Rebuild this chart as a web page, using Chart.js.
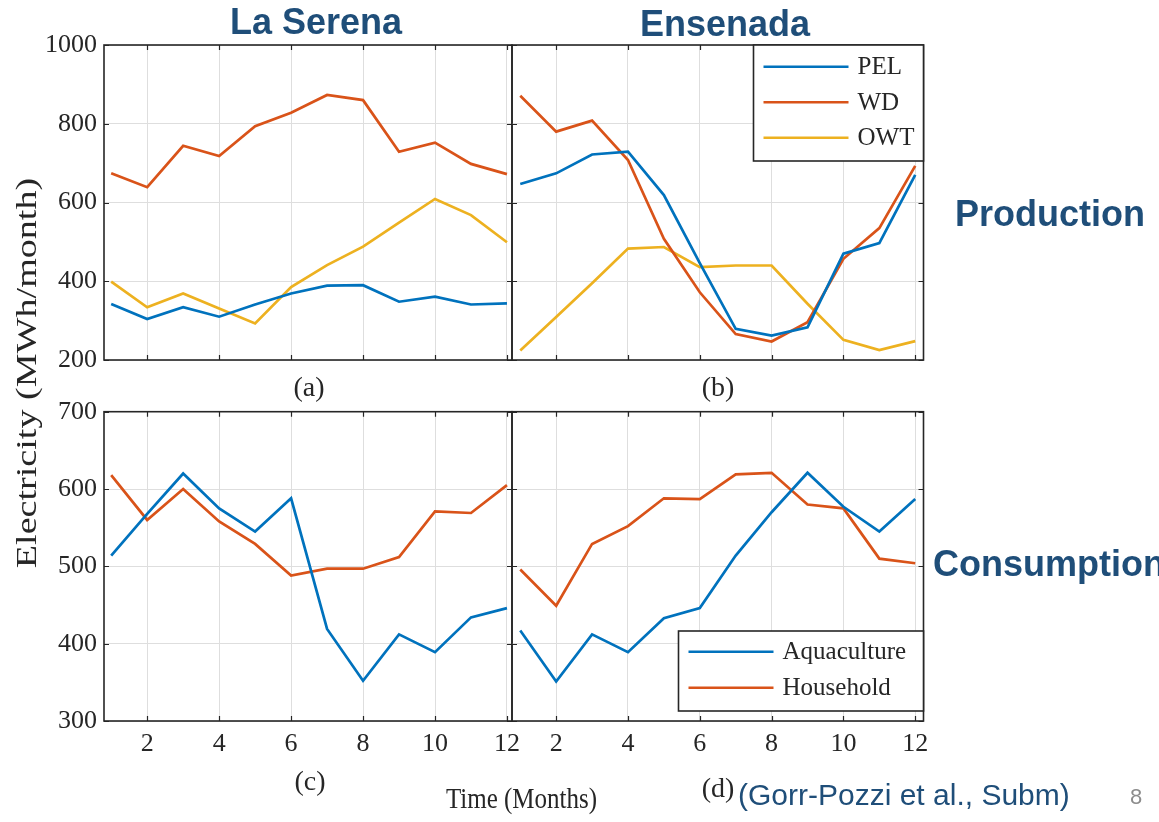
<!DOCTYPE html>
<html>
<head>
<meta charset="utf-8">
<script src="https://cdn.jsdelivr.net/npm/chart.js@4.4.1/dist/chart.umd.min.js"></script>
<style>
  html, body { margin: 0; padding: 0; background: #fff; }
  #page { position: relative; width: 1159px; height: 822px; overflow: hidden; background: #fff; }
  #page canvas { position: absolute; left: 0; top: 0; }
  .t { position: absolute; white-space: nowrap; line-height: 1; }
  .head { font-family: "Liberation Sans", Arial, sans-serif; font-weight: bold; font-size: 36px; color: #1F4E79; }
  .serif { font-family: "Liberation Serif", "Times New Roman", serif; color: #262626; }
</style>
</head>
<body>
<div id="page">
  <canvas id="panelA" width="1159" height="822"></canvas>
  <canvas id="panelB" width="1159" height="822"></canvas>
  <canvas id="panelC" width="1159" height="822"></canvas>
  <canvas id="panelD" width="1159" height="822"></canvas>

  <div class="t head" style="left:316px;top:3.8px;transform:translateX(-50%);">La Serena</div>
  <div class="t head" style="left:725px;top:5.5px;transform:translateX(-50%);">Ensenada</div>
  <div class="t head" style="left:955px;top:195.5px;">Production</div>
  <div class="t head" style="left:933px;top:545.5px;">Consumption</div>

  <div class="t serif" style="left:309px;top:372.5px;font-size:28px;transform:translateX(-50%);">(a)</div>
  <div class="t serif" style="left:718px;top:372.5px;font-size:28px;transform:translateX(-50%);">(b)</div>
  <div class="t serif" style="left:310px;top:767px;font-size:28px;transform:translateX(-50%);">(c)</div>
  <div class="t serif" style="left:718px;top:774px;font-size:28px;transform:translateX(-50%);">(d)</div>

  <div class="t serif" style="left:521.5px;top:787.4px;font-size:25px;transform-origin:50% 21px;transform:translateX(-50%) scaleY(1.21);">Time (Months)</div>
  <div class="t serif" style="left:-174.2px;top:357.5px;width:400px;height:30px;text-align:center;font-size:30px;transform:rotate(-90deg) scale(1.27,1);">Electricity (MWh/month)</div>

  <div class="t" style="left:738px;top:779.6px;font-family:'Liberation Sans',Arial,sans-serif;font-size:30px;color:#1F4E79;">(Gorr-Pozzi et al., Subm)</div>
  <div class="t" style="left:1130px;top:786.4px;font-family:'Liberation Sans',Arial,sans-serif;font-size:22px;color:#8c8c8c;">8</div>
</div>

<script>
// Months on the x axis and the tick values of each axis
const months = [1, 2, 3, 4, 5, 6, 7, 8, 9, 10, 11, 12];
const monthTicks = [2, 4, 6, 8, 10, 12];
const productionTicks = [200, 400, 600, 800, 1000];
const consumptionTicks = [300, 400, 500, 600, 700];

// Electricity production, La Serena (MWh/month)
const laSerenaPEL = [342, 304, 334, 310, 341, 369, 389, 390, 348, 361, 341, 344];
const laSerenaWD  = [674, 639, 744, 718, 794, 828, 873, 860, 729, 752, 698, 672];
const laSerenaOWT = [399, 334, 369, 331, 293, 385, 441, 488, 549, 609, 568, 499];

// Electricity production, Ensenada (MWh/month)
const ensenadaPEL = [647, 674, 722, 729, 619, 446, 279, 262, 283, 470, 497, 670];
const ensenadaWD  = [871, 780, 808, 708, 508, 372, 266, 247, 296, 457, 535, 693];
const ensenadaOWT = [224, 309, 395, 483, 487, 436, 440, 440, 343, 251, 225, 248];

// Electricity consumption, La Serena (MWh/month)
const laSerenaAquaculture = [514, 568, 620, 575, 545, 588, 419, 352, 412, 389, 434, 446];
const laSerenaHousehold   = [618, 560, 600, 558, 529, 488, 497, 497, 512, 571, 569, 605];

// Electricity consumption, Ensenada (MWh/month)
const ensenadaAquaculture = [417, 351, 412, 389, 433, 446, 514, 570, 621, 577, 545, 587];
const ensenadaHousehold   = [496, 449, 529, 552, 588, 587, 619, 621, 580, 575, 510, 504];

const BLUE = '#0072BD', ORANGE = '#D95319', YELLOW = '#EDB120';
const INK = '#262626', GRID = '#dedede';
const SERIF = '"Liberation Serif", "Times New Roman", serif';
const PAGE_W = 1159, PAGE_H = 822;

// Closed axes box with inward tick marks on all four sides
const boxPlugin = {
  id: 'axesBox',
  afterDatasetsDraw(chart) {
    const { ctx, chartArea: a, scales: { x, y } } = chart;
    ctx.save();
    ctx.strokeStyle = INK;
    ctx.lineWidth = 1.2;
    ctx.beginPath();
    x.ticks.forEach(t => {
      const px = Math.round(x.getPixelForValue(t.value)) + 0.5;
      ctx.moveTo(px, a.bottom); ctx.lineTo(px, a.bottom - 5);
      ctx.moveTo(px, a.top); ctx.lineTo(px, a.top + 5);
    });
    y.ticks.forEach(t => {
      const py = Math.round(y.getPixelForValue(t.value)) + 0.5;
      ctx.moveTo(a.left, py); ctx.lineTo(a.left + 5, py);
      ctx.moveTo(a.right, py); ctx.lineTo(a.right - 5, py);
    });
    ctx.stroke();
    ctx.lineWidth = 1.6;
    ctx.strokeRect(a.left, a.top, a.right - a.left, a.bottom - a.top);
    ctx.restore();
  }
};

// Boxed legend drawn inside the plot area
const boxLegendPlugin = {
  id: 'boxLegend',
  afterDatasetsDraw(chart, args, o) {
    const { ctx, chartArea: a } = chart;
    const left = a.right - o.w;
    const top = o.anchor === 'top' ? a.top + o.inset : a.bottom - o.inset - o.h;
    ctx.save();
    ctx.fillStyle = '#fff';
    ctx.fillRect(left, top, o.w, o.h);
    ctx.strokeStyle = INK;
    ctx.lineWidth = 1.6;
    ctx.strokeRect(left, top, o.w, o.h);
    ctx.font = '25px ' + SERIF;
    ctx.textBaseline = 'alphabetic';
    ctx.textAlign = 'left';
    chart.data.datasets.forEach((ds, i) => {
      const ry = top + o.first + i * o.gap;
      ctx.strokeStyle = ds.borderColor;
      ctx.lineWidth = 2.6;
      ctx.beginPath();
      ctx.moveTo(left + o.sampleX, ry);
      ctx.lineTo(left + o.sampleX + o.sampleLen, ry);
      ctx.stroke();
      ctx.fillStyle = INK;
      ctx.fillText(ds.label, left + o.textX, ry + 7.5);
    });
    ctx.restore();
  }
};

function panel(id, cfg) {
  const area = cfg.area;
  new Chart(document.getElementById(id), {
    type: 'line',
    data: {
      datasets: cfg.series.map(s => ({
        label: s.label,
        data: months.map((m, i) => ({ x: m, y: s.values[i] })),
        borderColor: s.color,
        backgroundColor: s.color,
        borderWidth: 2.7,
        pointRadius: 0,
        tension: 0,
        fill: false
      }))
    },
    options: {
      responsive: false,
      animation: false,
      devicePixelRatio: 1,
      layout: {
        padding: {
          left: area.left - cfg.yWidth,
          top: area.top,
          right: PAGE_W - area.right,
          bottom: PAGE_H - area.bottom - cfg.xHeight
        }
      },
      plugins: {
        legend: { display: false },
        tooltip: { enabled: false },
        boxLegend: cfg.legend || false
      },
      scales: {
        x: {
          type: 'linear',
          min: cfg.xMin,
          max: cfg.xMax,
          afterBuildTicks: s => { s.ticks = monthTicks.map(v => ({ value: v })); },
          afterFit: s => { s.height = cfg.xHeight; },
          grid: { color: GRID, lineWidth: 1, drawTicks: false },
          border: { display: false },
          ticks: {
            display: cfg.xLabels,
            font: { family: SERIF, size: 26 },
            color: INK,
            padding: 8,
            maxRotation: 0,
            autoSkip: false,
            callback: v => String(v)
          }
        },
        y: {
          type: 'linear',
          min: cfg.yTicks[0],
          max: cfg.yTicks[cfg.yTicks.length - 1],
          afterBuildTicks: s => { s.ticks = cfg.yTicks.map(v => ({ value: v })); },
          afterFit: s => { s.width = cfg.yWidth; },
          grid: { color: GRID, lineWidth: 1, drawTicks: false },
          border: { display: false },
          ticks: {
            display: cfg.yLabels,
            font: { family: SERIF, size: 26 },
            color: INK,
            padding: 7,
            callback: v => String(v)
          }
        }
      }
    },
    plugins: [boxPlugin, boxLegendPlugin]
  });
}

const productionSeries = (pel, wd, owt) => [
  { label: 'PEL', values: pel, color: BLUE },
  { label: 'WD', values: wd, color: ORANGE },
  { label: 'OWT', values: owt, color: YELLOW }
];
const consumptionSeries = (aq, hh) => [
  { label: 'Aquaculture', values: aq, color: BLUE },
  { label: 'Household', values: hh, color: ORANGE }
];

// (a) La Serena production
panel('panelA', {
  area: { left: 104, right: 512, top: 45, bottom: 360 },
  yWidth: 90, xHeight: 0, xLabels: false, yLabels: true,
  xMin: 0.8, xMax: 12.14, yTicks: productionTicks,
  series: productionSeries(laSerenaPEL, laSerenaWD, laSerenaOWT)
});

// (b) Ensenada production
panel('panelB', {
  area: { left: 512, right: 923.5, top: 45, bottom: 360 },
  yWidth: 0, xHeight: 0, xLabels: false, yLabels: false,
  xMin: 0.77, xMax: 12.23, yTicks: productionTicks,
  series: productionSeries(ensenadaPEL, ensenadaWD, ensenadaOWT),
  legend: { anchor: 'top', inset: 0, w: 170, h: 116, first: 21.7, gap: 35.5, sampleX: 10, sampleLen: 85, textX: 104 }
});

// (c) La Serena consumption
panel('panelC', {
  area: { left: 104, right: 512, top: 411.7, bottom: 721 },
  yWidth: 90, xHeight: 50, xLabels: true, yLabels: true,
  xMin: 0.8, xMax: 12.14, yTicks: consumptionTicks,
  series: consumptionSeries(laSerenaAquaculture, laSerenaHousehold)
});

// (d) Ensenada consumption
panel('panelD', {
  area: { left: 512, right: 923.5, top: 411.7, bottom: 721 },
  yWidth: 0, xHeight: 50, xLabels: true, yLabels: false,
  xMin: 0.77, xMax: 12.23, yTicks: consumptionTicks,
  series: consumptionSeries(ensenadaAquaculture, ensenadaHousehold),
  legend: { anchor: 'bottom', inset: 10, w: 245, h: 80, first: 20.7, gap: 36, sampleX: 10, sampleLen: 85, textX: 104 }
});
</script>
</body>
</html>
